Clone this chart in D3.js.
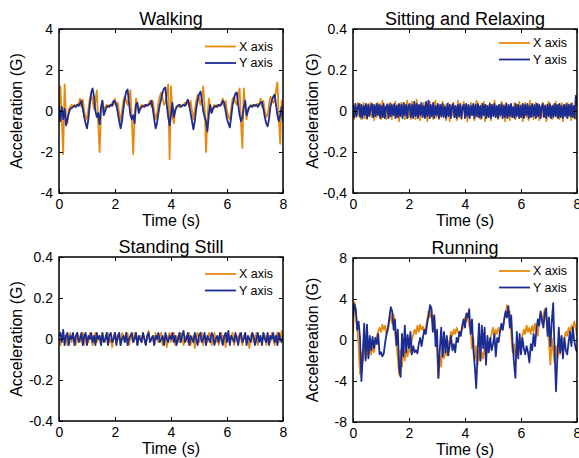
<!DOCTYPE html>
<html>
<head>
<meta charset="utf-8">
<script src="https://cdn.jsdelivr.net/npm/d3@7"></script>
<style>
body { margin: 0; background: #fff; }
text { font-family: "Liberation Sans", Arial, sans-serif; fill: #000; }
</style>
</head>
<body>
<div id="chart"></div>
<script>
//////////////////////////////////////////////////////////////////////////////
// data (8 s windows, samples evenly spaced)

var walkX = [0.1,1.2,-0.4,-2.1,1.3,-0.3,-0.6,0.1,0.2,0.3,0.2,0.3,0.25,0.3,0.35,0.6,0.2,0.55,0.0,-0.3,
  -0.4,0.1,0.6,0.8,0.5,0.1,0.5,1.0,-0.6,-2.0,-0.2,0.5,0.0,0.2,0.3,0.2,0.3,0.25,0.4,0.3,
  0.6,0.2,0.4,-0.1,-0.5,0.0,0.5,0.7,0.5,0.3,0.7,1.0,-0.4,-2.1,-0.3,0.6,0.2,0.0,0.2,0.3,
  0.2,0.3,0.25,0.3,0.35,0.5,0.2,0.5,0.0,-0.4,-0.2,0.4,0.7,0.9,0.6,0.3,0.4,0.8,1.3,-2.35,
  1.2,-0.2,-0.6,0.1,0.2,0.3,0.2,0.3,0.25,0.3,0.4,0.3,0.55,0.2,0.5,0.0,-0.4,0.0,0.5,0.8,
  0.6,0.3,0.7,1.2,0.3,-2.0,-0.4,0.6,0.2,0.0,0.2,0.3,0.2,0.3,0.25,0.3,0.4,0.6,0.2,0.5,
  0.0,-0.3,-0.4,0.1,0.6,0.7,0.4,0.3,0.8,1.1,-0.6,-1.8,1.1,0.2,-0.4,0.1,0.2,0.3,0.2,0.3,
  0.25,0.3,0.35,0.3,0.6,0.2,0.5,0.0,-0.3,-0.2,0.3,0.7,0.6,0.4,0.5,1.0,1.4,-0.3,-1.6,0.5,0.2];
var walkY = [0.3,-0.5,0.2,-0.4,0.1,-0.7,-0.4,-0.1,0.1,0.15,0.2,0.25,0.2,0.3,0.25,0.35,0.5,0.1,-0.3,-0.6,
  -0.85,-0.4,0.3,0.9,1.1,0.7,0.0,-0.3,-0.1,-0.65,0.2,0.5,-0.2,0.0,0.2,0.25,0.2,0.3,0.25,0.5,
  0.45,0.3,-0.1,-0.5,-0.85,-0.5,0.1,0.6,0.95,1.05,0.4,-0.2,-0.4,-0.2,-0.6,0.3,0.4,-0.1,0.1,0.2,
  0.25,0.2,0.3,0.25,0.3,0.35,0.5,0.1,-0.4,-0.85,-0.6,-0.1,0.3,0.6,0.9,1.1,1.15,0.3,-0.3,-0.7,
  -0.2,0.4,-0.3,0.0,0.2,0.25,0.3,0.2,0.25,0.3,0.25,0.4,0.55,0.3,-0.1,-0.5,-0.9,-0.5,0.1,0.5,
  0.8,0.95,0.6,0.0,-0.3,-0.5,-1.0,-0.2,0.3,-0.1,0.1,0.2,0.25,0.2,0.3,0.25,0.3,0.5,0.4,0.0,
  -0.4,-0.6,-0.8,-0.3,0.3,0.6,0.85,0.9,0.3,-0.2,-0.5,-0.3,0.2,0.5,-0.2,0.0,0.2,0.25,0.2,0.3,
  0.25,0.3,0.2,0.3,0.4,0.45,0.1,-0.3,-0.6,-0.75,-0.4,0.2,0.5,0.7,0.8,0.3,-0.2,-0.5,-0.2,0.2,-0.5];

var sitX = [0.035,-0.04,0.02,-0.03,0.04,-0.02,0.035,-0.04,0.01,0.04,-0.035,0.02,-0.04,0.035,-0.02,0.04,-0.03,0.03,-0.045,0.02,
  -0.03,0.04,-0.02,0.035,-0.04,0.05,-0.03,0.02,-0.04,0.035,0.01,-0.03,0.04,-0.04,0.02,-0.02,0.045,-0.03,0.03,-0.05,
  0.02,0.04,-0.03,0.035,-0.04,0.02,0.05,-0.03,0.03,-0.04,0.045,-0.02,0.03,-0.04,0.055,-0.03,0.02,-0.045,0.035,-0.02,
  0.04,-0.03,0.02,-0.05,0.03,0.045,-0.03,0.01,-0.04,0.03,0.05,-0.03,0.02,-0.04,0.03,-0.03,0.045,-0.02,0.03,-0.045,
  0.02,0.04,-0.05,0.03,-0.02,0.04,-0.03,0.02,-0.045,0.05,-0.03,0.03,-0.04,0.02,0.045,-0.03,0.03,-0.05,0.02,-0.03,
  0.04,-0.02,0.03,-0.045,0.03,0.05,-0.03,0.02,-0.04,0.035,-0.02,0.045,-0.05,0.03,0.01,-0.03,0.04,-0.045,0.03,-0.02,
  0.05,-0.03,0.02,-0.04,0.03,-0.03,0.045,-0.02,0.03,-0.05,0.04,-0.03,0.02,-0.045,0.03,0.01,-0.03,0.04,-0.04,0.03,
  -0.02,0.045,-0.03,0.03,-0.05,0.02,0.04,-0.03,0.03,-0.045,0.05,-0.02,0.03,-0.04,0.02,0.04,-0.03,0.035,-0.045,0.02,
  -0.03,0.04,-0.02,0.03,-0.05,0.03,0.045,-0.03,0.02,-0.04,0.03,-0.02,0.045,-0.03,0.03,-0.04,0.02,0.04,-0.05,0.03,
  0.02,-0.03,0.04,-0.02,0.03,-0.045,0.04,-0.03,0.02,-0.04,0.03];
var sitY = [0.03,-0.03,0.035,-0.025,0.02,0.035,-0.03,0.03,-0.035,0.025,-0.02,0.035,-0.035,0.03,-0.025,0.02,0.035,-0.03,0.03,-0.025,
  0.035,-0.02,0.03,-0.035,0.025,-0.03,0.035,-0.035,0.02,0.03,-0.035,0.035,-0.025,0.03,-0.02,0.035,-0.035,0.025,-0.03,0.035,
  -0.025,0.03,-0.035,0.04,-0.02,0.03,-0.035,0.025,0.035,-0.03,0.03,-0.035,0.045,-0.025,0.035,-0.035,0.03,-0.02,0.04,-0.03,
  0.025,-0.035,0.045,-0.025,0.05,-0.035,0.03,-0.025,0.04,-0.035,0.025,-0.02,0.035,-0.035,0.03,-0.025,0.035,-0.03,0.02,-0.035,
  0.035,-0.025,0.03,-0.035,0.02,0.035,-0.03,0.025,-0.035,0.03,-0.025,0.035,-0.035,0.02,0.03,-0.035,0.035,-0.025,0.03,-0.035,
  0.025,-0.02,0.035,-0.035,0.03,-0.025,0.035,-0.03,0.025,-0.035,0.035,-0.02,0.03,-0.035,0.025,-0.03,0.035,-0.035,0.03,-0.025,
  0.035,-0.03,0.025,-0.035,0.03,-0.02,0.035,-0.035,0.025,-0.03,0.035,-0.035,0.03,-0.025,0.035,-0.03,0.02,-0.035,0.035,-0.025,
  0.03,-0.035,0.025,-0.03,0.035,-0.035,0.03,-0.02,0.035,-0.035,0.025,-0.03,0.035,-0.025,0.03,-0.035,0.035,-0.025,0.03,-0.035,
  0.02,0.035,-0.03,0.025,-0.035,0.03,-0.025,0.035,-0.035,0.025,-0.03,0.035,-0.025,0.03,-0.035,0.035,-0.03,0.025,-0.035,0.03,
  -0.025,0.035,-0.035,0.03,-0.025,0.035,-0.03,0.025,-0.035,0.075,0.03];

var standX = [0.00,-0.03,0.015,0.03,-0.015,0.015,-0.03,0.00,0.03,-0.015,0.015,0.00,-0.03,0.03,0.015,-0.015,0.00,0.03,-0.03,0.015,
  0.00,-0.015,0.03,0.00,-0.03,0.015,0.03,-0.015,0.00,0.015,-0.03,0.03,0.00,-0.015,0.015,0.03,-0.015,0.00,-0.04,0.015,
  0.03,-0.015,0.00,0.015,-0.03,0.03,0.015,-0.015,0.00,0.03,-0.03,0.015,0.00,-0.015,0.03,0.015,-0.03,0.00,0.015,-0.015,
  0.03,0.00,-0.03,0.015,0.04,-0.015,0.00,0.015,-0.03,0.03,0.00,-0.015,0.015,0.03,-0.03,0.00,0.015,-0.04,0.015,0.03,
  -0.015,0.00,0.03,-0.03,0.015,0.00,-0.015,0.03,0.015,-0.03,0.00,0.015,-0.015,0.03,-0.03,0.00,0.015,-0.045,0.015,0.03,
  -0.015,0.00,0.03,-0.03,0.015,0.00,-0.015,0.03,0.015,-0.03,0.00,0.03,-0.015,0.015,-0.03,0.00,0.03,-0.015,0.015,-0.04,
  0.03,0.00,-0.015,0.015,0.03,-0.03,0.00,0.015,-0.015,0.03,0.00,-0.03,0.015,0.03,-0.015,0.00,-0.045,0.015,0.03,-0.015,
  0.00,0.03,-0.03,0.015,0.00,-0.015,0.03,0.015,-0.03,0.00,0.015,-0.015,0.03,0.00,-0.03,0.015,0.03,-0.015,0.00,0.04,
  0.00];
var standY = [0.015,0.03,-0.015,0.045,-0.03,0.015,0.03,-0.03,0.015,0.00,0.03,-0.03,0.015,0.03,-0.015,0.00,0.03,-0.03,0.015,0.03,
  -0.03,0.015,0.00,0.03,-0.015,0.015,-0.03,0.03,0.00,0.015,-0.03,0.03,-0.015,0.00,0.03,-0.03,0.015,0.03,-0.015,0.00,
  0.03,-0.03,0.015,0.03,-0.03,0.00,0.015,-0.015,0.03,-0.03,0.00,0.015,0.03,-0.015,0.00,0.03,-0.03,0.015,0.00,-0.015,
  0.03,0.00,-0.03,0.015,0.03,-0.015,0.00,0.015,-0.03,0.015,0.00,0.03,-0.015,0.00,0.015,-0.03,0.03,0.00,-0.015,0.015,
  0.00,0.03,-0.015,0.015,-0.03,0.00,0.03,-0.015,0.015,0.04,-0.015,0.00,0.03,-0.03,0.015,0.00,-0.015,0.03,0.00,-0.03,
  0.015,0.03,-0.015,0.00,0.03,-0.03,0.015,0.00,-0.015,0.03,0.015,-0.03,0.00,0.015,-0.015,0.03,0.00,-0.03,0.015,0.03,
  -0.015,0.04,-0.03,0.015,0.00,-0.015,0.03,0.00,-0.03,0.015,0.03,-0.015,0.00,0.03,-0.03,0.015,0.00,-0.015,0.03,0.015,
  -0.03,0.00,0.03,-0.015,0.015,-0.03,0.03,0.00,-0.015,0.03,-0.03,0.015,0.00,0.03,-0.015,0.015,-0.03,0.03,0.00,-0.015,
  0.015];

var runX = [0.6,3.7,2.8,1.0,-0.5,-3.3,-1.2,-2.2,0.8,-1.8,-0.4,-1.6,-0.8,-1.4,-0.5,-1.2,-0.2,0.4,0.8,1.2,
  0.8,1.5,1.0,1.4,0.5,1.0,1.8,2.4,1.6,2.5,0.6,-0.4,-1.8,-3.4,-1.0,-2.6,-0.5,-2.0,-1.0,-1.6,
  -0.6,-1.2,0.0,0.5,1.0,0.6,1.4,0.8,1.5,1.0,1.3,0.6,1.2,2.0,2.8,2.2,3.0,1.6,2.4,0.5,
  -1.0,-3.7,-1.6,-2.6,-0.6,-1.8,-1.0,-1.5,-0.4,0.0,0.8,0.4,1.0,0.6,1.2,0.8,0.4,0.8,1.0,1.6,
  2.2,1.8,2.6,1.4,1.0,-0.8,0.2,-2.0,-0.6,-2.4,-1.0,-2.0,-1.2,-1.8,-0.8,-1.4,-1.2,-1.0,0.0,0.6,
  1.2,0.4,1.0,0.6,1.2,0.8,1.4,1.0,2.0,2.6,3.4,2.4,2.8,0.6,-1.2,-0.4,-1.6,-0.6,-1.4,-0.2,
  -0.8,0.4,1.0,0.6,1.4,0.8,1.2,0.6,1.4,0.8,1.6,1.0,0.4,2.0,2.6,1.6,2.4,3.0,2.0,1.0,
  -0.2,-2.4,0.2,-1.0,-2.2,-0.6,-1.8,-0.6,-1.4,-0.2,-1.0,0.2,0.8,0.4,1.2,0.6,1.4,1.0,1.8,1.2,0.4];
var runY = [2.2,3.5,3.0,1.0,1.8,0.2,-4.0,-1.5,1.6,-2.0,1.5,-1.8,0.4,-1.0,0.3,-0.8,0.2,-0.4,0.6,-1.4,
  -1.2,-1.6,-1.3,-0.2,0.6,1.2,2.2,3.2,2.8,1.0,2.0,-0.5,1.0,-2.8,-3.6,0.6,-1.6,1.4,-1.2,0.5,
  -0.8,0.8,-1.4,-0.6,-1.2,-1.0,-1.3,-0.4,0.2,-0.6,0.3,1.0,0.6,1.6,2.4,3.4,3.1,0.8,2.4,-0.6,
  1.0,-3.7,-1.0,1.2,-1.6,0.8,-1.2,0.4,-1.5,-0.6,0.4,-1.0,-0.4,-1.2,0.2,-0.2,0.8,0.4,1.4,2.0,
  1.2,2.6,2.2,3.0,0.6,2.0,-1.0,-2.6,-4.7,-1.2,1.6,-2.0,1.4,-0.8,1.2,-2.4,0.4,-1.2,0.2,-1.0,
  -0.4,0.6,-1.6,0.2,-0.2,0.8,1.6,1.0,2.0,2.8,2.2,3.3,1.2,2.4,-0.4,-2.2,-3.7,0.8,-1.8,0.6,
  -1.4,0.2,-0.8,-1.4,-0.6,-1.2,-2.2,-0.4,-1.0,0.6,-0.6,1.0,2.0,1.4,2.8,2.0,1.2,2.6,3.1,0.4,
  2.2,-0.6,1.8,3.6,-1.0,-5.0,-1.6,1.2,-1.2,0.4,-1.8,0.2,-1.0,-1.4,-0.2,0.8,-0.6,1.2,0.0,-0.8,-1.2];

var timeTicks = [0, 2, 4, 6, 8];
var seriesNames = ["X axis", "Y axis"];

//////////////////////////////////////////////////////////////////////////////
// panel layout

var W = 579, H = 458;
var plotW = 224, plotH = 164;
var colX = "#e8890f", colY = "#1b2d93";

var panels = [
    { title: "Walking", ylab: "Acceleration (G)", x: 59, y: 29, lim: 4,
      ticks: [-4, -2, 0, 2, 4], labels: ["-4", "-2", "0", "2", "4"],
      sx: walkX, sy: walkY, legTop: 17.5, ylabX: 22 },
    { title: "Sitting and Relaxing", ylab: "Acceleration (G)", x: 353, y: 29, lim: 0.4,
      ticks: [-0.4, -0.2, 0, 0.2, 0.4], labels: ["-0,4", "-0.2", "0", "0.2", "0.4"],
      sx: sitX, sy: sitY, legTop: 14, ylabX: 318 },
    { title: "Standing Still", ylab: "Acceleration (G)", x: 59, y: 257, lim: 0.4,
      ticks: [-0.4, -0.2, 0, 0.2, 0.4], labels: ["-0.4", "-0.2", "0", "0.2", "0.4"],
      sx: standX, sy: standY, legTop: 17, ylabX: 22 },
    { title: "Running", ylab: "Accelereation (G)", x: 353, y: 258, lim: 8,
      ticks: [-8, -4, 0, 4, 8], labels: ["-8", "-4", "0", "4", "8"],
      sx: runX, sy: runY, legTop: 13, ylabX: 318 }
];

var svg = d3.select("#chart").append("svg")
    .attr("width", W)
    .attr("height", H);

panels.forEach(function(p, k) {
    var xScale = d3.scaleLinear().domain([0, 8]).range([0, plotW]);
    var yScale = d3.scaleLinear().domain([-p.lim, p.lim]).range([plotH, 0]);

    var g = svg.append("g").attr("transform", "translate(" + p.x + "," + p.y + ")");

    g.append("clipPath").attr("id", "clip" + k)
        .append("rect").attr("width", plotW).attr("height", plotH);

    function toPoints(arr) {
        var n = arr.length;
        return arr.map(function(v, i) { return [i * 8 / (n - 1), v]; });
    }
    var line = d3.line()
        .x(function(d) { return xScale(d[0]); })
        .y(function(d) { return yScale(d[1]); });

    var lines = g.append("g").attr("clip-path", "url(#clip" + k + ")");
    lines.append("path").attr("d", line(toPoints(p.sx)))
        .attr("fill", "none").attr("stroke", colX).attr("stroke-width", 1.8)
        .attr("stroke-linejoin", "round");
    lines.append("path").attr("d", line(toPoints(p.sy)))
        .attr("fill", "none").attr("stroke", colY).attr("stroke-width", 1.8)
        .attr("stroke-linejoin", "round");

    // axes, ticks pointing inside like matlab
    var yAxis = d3.axisLeft(yScale).tickValues(p.ticks)
        .tickFormat(function(d, i) { return p.labels[i]; })
        .tickSizeInner(-4).tickSizeOuter(0).tickPadding(6);
    var xAxis = d3.axisBottom(xScale).tickValues(timeTicks)
        .tickFormat(d3.format("d"))
        .tickSizeInner(-4).tickSizeOuter(0).tickPadding(6);

    g.append("g").call(yAxis);
    g.append("g").attr("transform", "translate(0," + plotH + ")").call(xAxis);
    g.append("g").attr("transform", "translate(" + plotW + ",0)")
        .call(d3.axisRight(yScale).tickValues(p.ticks).tickFormat("").tickSizeInner(-4).tickSizeOuter(0));
    g.append("g")
        .call(d3.axisTop(xScale).tickValues(timeTicks).tickFormat("").tickSizeInner(-4).tickSizeOuter(0));

    g.selectAll(".domain").remove();
    g.selectAll(".tick line").attr("stroke", "#000").attr("stroke-width", 1);
    g.selectAll(".tick text").style("font-size", "14px")
        .style("font-family", "'Liberation Sans', Arial, sans-serif").attr("fill", "#000");

    g.append("rect").attr("width", plotW).attr("height", plotH)
        .attr("fill", "none").attr("stroke", "#000").attr("stroke-width", 1.5);

    // titles and axis labels
    g.append("text").attr("x", plotW / 2).attr("y", -4.5)
        .attr("text-anchor", "middle").style("font-size", "18px").text(p.title);
    g.append("text").attr("x", plotW / 2).attr("y", plotH + 33)
        .attr("text-anchor", "middle").style("font-size", "16px").text("Time (s)");
    svg.append("text")
        .attr("transform", "translate(" + p.ylabX + "," + (p.y + plotH / 2) + ") rotate(-90)")
        .attr("text-anchor", "middle").style("font-size", "16px").text(p.ylab);

    // legend
    var leg = g.append("g").attr("transform", "translate(" + (plotW - 78) + "," + p.legTop + ")");
    seriesNames.forEach(function(name, j) {
        var yy = j * 16.5;
        leg.append("line").attr("x1", 0).attr("x2", 31).attr("y1", yy).attr("y2", yy)
            .attr("stroke", j === 0 ? colX : colY).attr("stroke-width", 1.8);
        leg.append("text").attr("x", 34).attr("y", yy).attr("dy", "0.35em")
            .style("font-size", "12.5px").text(name);
    });
});
</script>
</body>
</html>
